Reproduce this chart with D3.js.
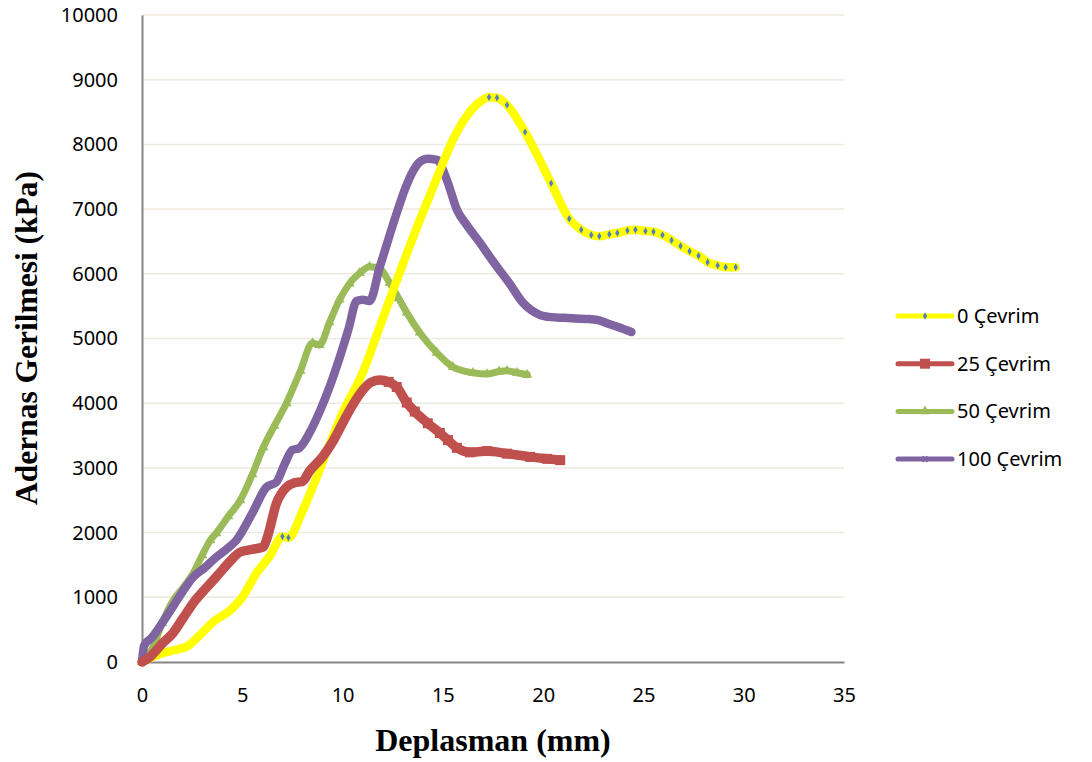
<!DOCTYPE html>
<html>
<head>
<meta charset="utf-8">
<script src="https://cdn.jsdelivr.net/npm/d3@7"></script>
<style>
  body { margin: 0; background: #fff; }
  text { font-family: "Noto Sans", sans-serif; fill: #000; }
  .title { font-family: "Liberation Serif", "Times New Roman", serif; font-weight: bold; }
</style>
</head>
<body>
<svg id="chart" width="1092" height="762"></svg>
<script>
// [deplasman (mm), gerilme (kPa), marker shown]
var cevrim0 = [
  [0,0],[0.4,60],[1.05,140],[1.7,190],[2.24,240],[2.9,420],[3.55,620],[4.4,800],[5.0,1000],[5.7,1370],
  [6.4,1650],[7.0,1940,1],[7.3,1920,1],[8.0,2330],[8.65,2810],[9.3,3320],[10.0,3850],[11.0,4470],
  [11.7,5050],[12.35,5600],[13.1,6230],[13.85,6830],[14.7,7480],[15.5,8070],[16.1,8400],[16.7,8620],
  [17.3,8730,1],[17.7,8720,1],[18.2,8610,1],[19.1,8190,1],[20.4,7400,1],[21.3,6850,1],[21.9,6680,1],
  [22.4,6600,1],[22.8,6580,1],[23.3,6610,1],[23.7,6630,1],[24.2,6670,1],[24.6,6680,1],[25.1,6660,1],
  [25.5,6650,1],[25.95,6600,1],[26.4,6520,1],[26.85,6430,1],[27.3,6350,1],[27.75,6280,1],[28.2,6180,1],
  [28.7,6130,1],[29.1,6100,1],[29.6,6100,1]
];
var cevrim25 = [
  [0,0],[0.4,80],[1.05,300],[1.5,430],[2.05,680],[2.6,930],[3.25,1160],[3.8,1350],[4.4,1560],[4.9,1700],
  [5.5,1740],[6.05,1780],[6.25,1930],[6.7,2450],[7.2,2700],[7.6,2770],[8.0,2790],[8.35,2950],[9.0,3170],
  [9.5,3400],[10.0,3690],[10.5,3970],[11.0,4200],[11.4,4320],[11.85,4360],[12.3,4330],[12.7,4250],
  [13.2,4010],[13.6,3870],[14.25,3690],[14.85,3540],[15.25,3430],[15.7,3310],[16.35,3240],[17.2,3260],
  [18.2,3220],[19.35,3170],[20.2,3140],[20.85,3120]
];
var cevrim50 = [
  [0,0],[0.55,230],[1.0,600],[1.55,950],[2.05,1150],[2.55,1370],[3.0,1650],[3.4,1880],[3.7,1990],
  [4.3,2250],[4.9,2500],[5.5,2900],[6.05,3320],[6.6,3650],[7.2,4000],[7.9,4500],[8.5,4930],[8.85,4900],
  [9.35,5250],[9.85,5600],[10.35,5850],[10.85,6010],[11.35,6110],[11.85,6080],[12.35,5860],[12.8,5620],
  [13.2,5400],[13.85,5090],[14.7,4780],[15.5,4560],[16.5,4470],[17.2,4450],[17.8,4490],[18.2,4500],
  [18.7,4470],[19.2,4440]
];
var cevrim100 = [
  [0,0],[0.1,250],[0.5,380],[1.0,600],[1.55,860],[2.05,1100],[2.55,1310],[3.1,1450],[3.7,1620],
  [4.2,1740],[4.7,1880],[5.5,2300],[6.2,2700],[6.7,2780],[7.1,3050],[7.5,3280],[7.8,3300],[8.35,3540],
  [8.9,3900],[9.35,4250],[9.85,4700],[10.3,5150],[10.7,5580],[11.0,5600],[11.35,5580],[11.85,6100],
  [12.3,6550],[12.7,6940],[13.1,7300],[13.5,7580],[13.85,7730],[14.25,7780],[14.7,7760],[15.2,7450],
  [15.7,6990],[16.2,6750],[16.85,6480],[17.3,6280],[17.65,6130],[18.3,5860],[19.0,5550],[19.8,5370],
  [20.4,5330],[21.0,5320],[21.6,5310],[22.3,5300],[22.8,5280],[23.15,5240],[23.8,5170],[24.4,5100]
];
var xTicks = d3.range(0, 36, 5);
var yTicks = d3.range(0, 10001, 1000);
var seriesNames = ["0 Çevrim", "25 Çevrim", "50 Çevrim", "100 Çevrim"];
var seriesColors = ["#FFFF00", "#C0504D", "#9BBB59", "#8064A2"];

var svg = d3.select("#chart");
var margin = {top: 15, left: 142, right: 248, bottom: 100};
var width = 1092 - margin.left - margin.right,
    height = 762 - margin.top - margin.bottom;

var x = d3.scaleLinear().domain([0, 35]).range([0, width]);
var y = d3.scaleLinear().domain([0, 10000]).range([height, 0]);

var g = svg.append("g").attr("transform", "translate(" + margin.left + "," + margin.top + ")");

// grid
g.selectAll(".grid").data(yTicks.slice(1))
  .enter().append("line")
    .attr("x1", 0).attr("x2", width)
    .attr("y1", function(d){ return y(d); }).attr("y2", function(d){ return y(d); })
    .attr("stroke", "#ECE9DF").attr("stroke-width", 1.5);

// axes
var yAxis = g.append("g").call(d3.axisLeft(y).tickValues(yTicks).tickSize(0).tickPadding(24).tickFormat(d3.format("d")));
var xAxis = g.append("g").attr("transform", "translate(0," + height + ")")
  .call(d3.axisBottom(x).tickValues(xTicks).tickSize(0).tickPadding(26));
[xAxis, yAxis].forEach(function(a){
  a.select(".domain").attr("stroke", "#868686").attr("stroke-width", 2);
  a.selectAll("text").style("font-family", "'Noto Sans', sans-serif").style("font-size", "20px").attr("fill", "#000");
});

var line = d3.line().x(function(d){ return x(d[0]); }).y(function(d){ return y(d[1]); }).curve(d3.curveMonotoneX);

function drawSeries(data, color, w) {
  g.append("path").datum(data)
    .attr("d", line).attr("fill", "none")
    .attr("stroke", color).attr("stroke-width", w)
    .attr("stroke-linejoin", "round").attr("stroke-linecap", "round");
}

// green, purple, yellow, red (stacking as in the picture)
drawSeries(cevrim50, seriesColors[2], 7);
g.selectAll(".tri").data(cevrim50).enter().append("path")
  .attr("d", d3.symbol(d3.symbolTriangle, 45))
  .attr("transform", function(d){ return "translate(" + x(d[0]) + "," + y(d[1]) + ")"; })
  .attr("fill", seriesColors[2]);

drawSeries(cevrim100, seriesColors[3], 8.5);
g.selectAll(".star").data(cevrim100.filter(function(d){ return d[0] > 14; })).enter().append("path")
  .attr("d", d3.symbol(d3.symbolCross, 30))
  .attr("transform", function(d){ return "translate(" + x(d[0]) + "," + y(d[1]) + ") rotate(45)"; })
  .attr("fill", seriesColors[3]);

drawSeries(cevrim0, seriesColors[0], 8.5);
g.selectAll(".dia").data(cevrim0.filter(function(d){ return d[2]; })).enter().append("path")
  .attr("d", d3.symbol(d3.symbolDiamond, 16))
  .attr("transform", function(d){ return "translate(" + x(d[0]) + "," + y(d[1]) + ")"; })
  .attr("fill", "#4F81BD");

drawSeries(cevrim25, seriesColors[1], 9.5);
g.selectAll(".sq").data(cevrim25.filter(function(d){ return d[0] > 12; })).enter().append("path")
  .attr("d", d3.symbol(d3.symbolSquare, 100))
  .attr("transform", function(d){ return "translate(" + x(d[0]) + "," + y(d[1]) + ")"; })
  .attr("fill", seriesColors[1]);

// legend
var legend = svg.append("g").attr("transform", "translate(898,316)");
var items = legend.selectAll(".item").data(seriesNames).enter().append("g")
  .attr("transform", function(d, i){ return "translate(0," + (i * 47.7) + ")"; });
items.append("line").attr("x1", 0).attr("x2", 54).attr("y1", 0).attr("y2", 0)
  .attr("stroke", function(d, i){ return seriesColors[i]; })
  .attr("stroke-width", 5).attr("stroke-linecap", "round");
items.append("path")
  .attr("d", function(d, i){ return d3.symbol([d3.symbolDiamond, d3.symbolSquare, d3.symbolTriangle, d3.symbolCross][i], [16, 100, 45, 30][i])(); })
  .attr("transform", function(d, i){ return "translate(27,0)" + (i == 3 ? " rotate(45)" : ""); })
  .attr("fill", function(d, i){ return i == 0 ? "#4F81BD" : seriesColors[i]; });
items.append("text").attr("x", 59).attr("y", 0).attr("dy", "0.35em")
  .style("font-size", "20px").text(function(d){ return d; });

// axis titles
svg.append("text").attr("class", "title")
  .attr("x", 493).attr("y", 751)
  .attr("text-anchor", "middle").style("font-size", "32px")
  .text("Deplasman (mm)");
svg.append("text").attr("class", "title")
  .attr("transform", "translate(37,338) rotate(-90)")
  .attr("text-anchor", "middle").style("font-size", "31.5px")
  .text("Adernas Gerilmesi (kPa)");
</script>
</body>
</html>
